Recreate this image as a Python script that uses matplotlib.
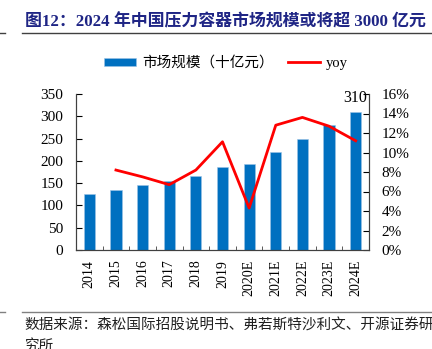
import matplotlib
matplotlib.use("Agg")
import matplotlib.pyplot as plt
from matplotlib.patches import Patch
from matplotlib.lines import Line2D
from matplotlib.ticker import FixedLocator, FuncFormatter

plt.rcParams["font.family"] = ["Liberation Serif", "Noto Sans CJK SC"]

years = ["2014", "2015", "2016", "2017", "2018", "2019",
         "2020E", "2021E", "2022E", "2023E", "2024E"]
market_size = [125, 135, 145, 155, 167, 186, 193, 219, 248, 280, 310]
yoy_years = years[1:]
yoy = [8.2, 7.5, 6.7, 8.2, 11.1, 4.3, 12.8, 13.6, 12.7, 11.2]

BLUE = "#0070C0"
RED = "#FF0000"
NAVY = "#1F2585"

fig = plt.figure(figsize=(4.32, 3.49), dpi=100)
ax = fig.add_axes([76 / 432, 1 - 250 / 349, (369 - 76) / 432, (250 - 94) / 349])

x = list(range(len(years)))
ax.bar(x, market_size, width=0.42, color=BLUE, edgecolor="#9DC3E6", linewidth=0.4, zorder=2)
ax.set_xlim(-0.5, len(years) - 0.5)
ax.set_ylim(0, 350)
ax.set_yticks(range(0, 351, 50))
ax.set_xticks(x)
ax.set_xticklabels(years, rotation=90, fontsize=10)
ax.xaxis.set_minor_locator(FixedLocator([i + 0.5 for i in x[:-1]]))
ax.tick_params(axis="x", which="major", length=0, pad=7)
ax.tick_params(axis="x", which="minor", direction="in", length=3, color="#404040")
ax.tick_params(axis="y", direction="in", length=4, labelsize=11, pad=9)
ax.annotate(str(market_size[-1]), (x[-1], market_size[-1]), xytext=(0, 4),
            textcoords="offset points", ha="center", va="bottom", fontsize=11.5)

ax2 = ax.twinx()
ax2.plot(x[1:], yoy, color=RED, linewidth=2, zorder=3)
ax2.set_ylim(0, 16)
ax2.set_yticks(range(0, 17, 2))
ax2.yaxis.set_major_formatter(FuncFormatter(lambda v, p: f"{v:.0f}%"))
ax2.tick_params(axis="y", direction="in", length=4, labelsize=11, pad=9)

for a in (ax, ax2):
    a.spines["top"].set_visible(False)
    for s in ("left", "right", "bottom"):
        a.spines[s].set_color("#404040")
        a.spines[s].set_linewidth(0.8)

handles = [Patch(facecolor=BLUE, edgecolor="#9DC3E6", linewidth=0.4, label="市场规模（十亿元）"),
           Line2D([], [], color=RED, linewidth=2, label="yoy")]
fig.legend(handles=handles, loc="center", bbox_to_anchor=(226 / 432, 1 - 63 / 349), ncol=2,
           frameon=False, fontsize=10.5, handlelength=2.2, handleheight=0.5,
           columnspacing=1.0, handletextpad=0.4)

fig.text(25 / 432, 1 - 22 / 349, "图12：2024 年中国压力容器市场规模或将超 3000 亿元",
         fontsize=12.2, fontweight="bold", color=NAVY, ha="left", va="center")
fig.add_artist(Line2D([22 / 432, 1], [1 - 33 / 349] * 2, color="#404040", linewidth=1))
fig.add_artist(Line2D([0, 5 / 432], [1 - 33 / 349] * 2, color="#404040", linewidth=1))
fig.add_artist(Line2D([22 / 432, 1], [1 - 312 / 349] * 2, color="#808080", linewidth=1))
fig.add_artist(Line2D([0, 5 / 432], [1 - 312 / 349] * 2, color="#808080", linewidth=1))
fig.text(24 / 432, 1 - 326 / 349, "数据来源：森松国际招股说明书、弗若斯特沙利文、开源证券研",
         fontsize=10.5, color="#202020", ha="left", va="center")
fig.text(24 / 432, 1 - 346 / 349, "究所", fontsize=10.5, color="#202020", ha="left", va="center")

fig.savefig("out.png", dpi=100)
